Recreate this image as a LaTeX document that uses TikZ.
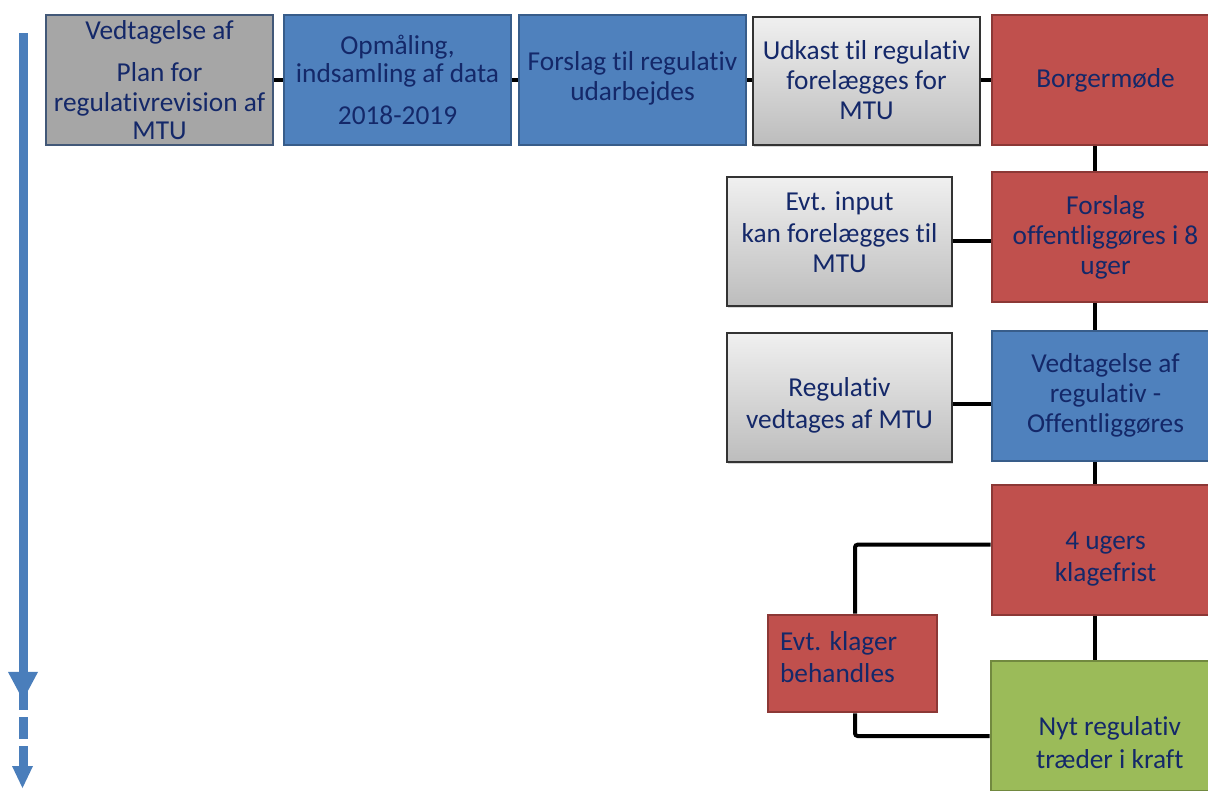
\documentclass[tikz,border=0pt]{standalone}
\usepackage{fontspec}
\setmainfont{Carlito}[Ligatures=NoCommon]
\usetikzlibrary{shadows}
\definecolor{cblue}{HTML}{4F81BD}
\definecolor{cblueb}{HTML}{385D8A}
\definecolor{cred}{HTML}{C0504D}
\definecolor{credb}{HTML}{8C3836}
\definecolor{cgreen}{HTML}{9BBB59}
\definecolor{cgreenb}{HTML}{71893F}
\definecolor{cgray}{HTML}{A6A6A6}
\definecolor{cgrayb}{HTML}{425878}
\definecolor{navy}{RGB}{20,40,105}
\definecolor{arrowblue}{HTML}{4A7EBB}
\tikzset{
  base/.style={draw, line width=2.2pt, inner sep=0pt, minimum width=170.25pt, minimum height=97.5pt},
  bluebox/.style={base, fill=cblue, draw=cblueb},
  redbox/.style={base, fill=cred, draw=credb},
  greenbox/.style={base, fill=cgreen, draw=cgreenb},
  graybox/.style={base, fill=cgray, draw=cgrayb},
  gradbox/.style={base, line width=1.5pt, draw=black!80, top color=black!6, bottom color=black!26,
     drop shadow={opacity=0.3, shadow xshift=1pt, shadow yshift=-1.3pt}},
  txt/.style={font=\fontsize{20.5}{22.5}\selectfont, text=navy, align=center, inner sep=0pt},
  link/.style={line width=3pt, draw=black},
}
\begin{document}
\begin{tikzpicture}[x=0.75pt, y=-0.75pt]
\useasboundingbox (0,0) rectangle (1208,791);

% left timeline arrow
\fill[arrowblue] (18.5,33) rectangle (27.5,710);
\fill[arrowblue] (8,672) -- (38,672) -- (23,700) -- cycle;
\fill[arrowblue] (18.5,717) rectangle (27.5,739);
\fill[arrowblue] (18.5,746) rectangle (27.5,767);
\fill[arrowblue] (12,766) -- (33,766) -- (22.5,788) -- cycle;

% top row
\node[graybox] (b1) at (159.5,80) {};
\node[txt] (t1) at (b1.center) {Vedtagelse af\\[9pt]Plan for\\regulativrevision af\\[-2pt]MTU};
\node[bluebox] (b2) at (397.5,80) {};
\node[txt] (t2) at (b2.center) {Opmåling,\\[-1pt]indsamling af data\\[9pt]2018-2019};
\node[bluebox] (b3) at (632.5,80) {};
\node[txt] (t3) at ([yshift=1.5pt]b3.center) {Forslag til regulativ\\udarbejdes};
\node[gradbox, minimum height=96pt] (b4) at (866.5,81) {};
\node[txt] (t4) at ([yshift=1pt]b4.center) {Udkast til regulativ\\forelægges for\\MTU};
\node[redbox] (b5) at (1105.5,80) {};
\node[txt] (t5) at (b5.center) {Borgermøde};

% right column
\node[redbox] (b6) at (1105.5,237) {};
\node[txt] (t6) at (b6.center) {Forslag\\offentliggøres i 8\\uger};
\node[gradbox, minimum width=168.75pt, minimum height=96.75pt] (b7) at (839.5,241.5) {};
\node[txt] (t7) at ([yshift=7pt]b7.center) {Evt. input\\[1pt]kan forelægges til\\MTU};
\node[bluebox] (b8) at (1105.5,396) {};
\node[txt] (t8) at ([yshift=0.5pt]b8.center) {Vedtagelse af\\regulativ -\\Offentliggøres};
\node[gradbox, minimum width=168.75pt, minimum height=96.75pt] (b9) at (839.5,397.5) {};
\node[txt] (t9) at ([yshift=-6pt]b9.center) {Regulativ\\[1.5pt]vedtages af MTU};
\node[redbox] (b10) at (1105.5,550) {};
\node[txt] (t10) at ([yshift=-6.5pt]b10.center) {4 ugers\\[1.5pt]klagefrist};
\node[redbox, minimum width=126.75pt, minimum height=72.75pt] (b11) at (852.5,663.5) {};
\node[txt, align=left, anchor=west] (t11) at ([xshift=10pt,yshift=5pt]b11.west) {Evt. klager\\[1.5pt]behandles};
\node[greenbox] (b12) at (1104.5,726) {};
\node[txt] (t12) at ([xshift=4pt,yshift=-12.5pt]b12.center) {Nyt regulativ\\[2pt]træder i kraft};

% connectors
\coordinate (vx) at (1095,0);
\coordinate (kx) at (855,0);
\draw[link] (b1.east) -- (b2.west);
\draw[link] (b2.east) -- (b3.west);
\draw[link] (b3.east) -- (b4.west |- b3.east);
\draw[link] (b4.east |- b5.west) -- (b5.west);
\draw[link] (b5.south -| vx) -- (b6.north -| vx);
\draw[link] (b6.south -| vx) -- (b8.north -| vx);
\draw[link] (b8.south -| vx) -- (b10.north -| vx);
\draw[link] (b10.south -| vx) -- (b12.north -| vx);
\draw[link] (b7.east) -- (b7.east -| b6.west);
\draw[link] ([yshift=-5pt]b9.east) -- ([yshift=-5pt]b9.east -| b8.west);
\draw[link, rounded corners=2pt] ([yshift=4pt]b10.west) -| (b11.north -| kx);
\draw[link, rounded corners=2pt] (b11.south -| kx) |- ([yshift=-7.5pt]b12.west);
\end{tikzpicture}
\end{document}
